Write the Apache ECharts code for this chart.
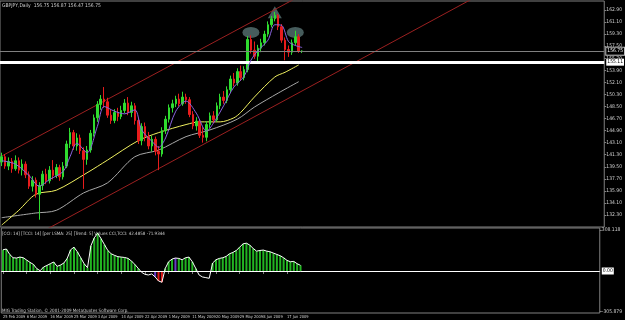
<!DOCTYPE html>
<html>
<head>
<meta charset="utf-8">
<script src="https://cdn.jsdelivr.net/npm/echarts@6/dist/echarts.min.js"></script>
<style>
html, body { margin: 0; padding: 0; background: #000; }
#chart { width: 625px; height: 320px; }
</style>
</head>
<body>
<div id="chart"></div>
<script>
// GBPJPY daily. candles: [open, close, low, high]
const CANDLES = [
  [140.2, 141.0, 139.6, 141.6], [141.0, 139.6, 139.2, 141.4], [139.6, 140.3, 139.0, 140.9],
  [140.3, 139.2, 138.6, 140.8], [139.2, 140.4, 138.9, 141.2], [140.4, 139.0, 138.5, 140.9],
  [139.0, 139.9, 138.2, 140.6], [139.9, 138.3, 137.8, 140.3], [138.3, 136.6, 136.2, 138.8],
  [136.6, 137.5, 135.8, 138.1], [137.5, 135.4, 134.9, 137.9], [135.4, 136.7, 131.6, 137.2],
  [136.7, 138.4, 136.0, 138.9], [138.4, 137.4, 136.9, 139.2], [137.4, 139.0, 137.0, 139.6],
  [139.0, 138.2, 137.6, 140.5], [138.2, 139.4, 137.8, 139.9], [139.4, 138.0, 137.4, 139.8],
  [138.0, 139.6, 137.6, 140.2], [139.6, 142.9, 139.3, 143.4], [142.9, 144.6, 142.3, 145.3],
  [144.6, 142.6, 142.0, 145.0], [142.6, 143.8, 141.9, 144.5], [143.8, 141.9, 141.4, 144.3],
  [141.9, 140.6, 136.2, 142.4], [140.6, 142.0, 139.8, 142.6], [142.0, 144.5, 141.6, 145.0],
  [144.5, 146.8, 144.0, 147.3], [146.8, 148.8, 146.2, 149.3], [148.8, 149.6, 148.0, 150.2],
  [149.6, 149.2, 148.3, 151.4], [149.2, 147.2, 146.8, 149.8], [147.2, 146.4, 145.9, 148.0],
  [146.4, 147.6, 146.0, 148.1], [147.6, 147.0, 146.3, 148.3], [147.0, 147.9, 146.6, 148.6],
  [147.9, 149.0, 147.5, 149.6], [149.0, 147.6, 147.2, 149.9], [147.6, 148.6, 146.9, 149.2],
  [148.6, 146.4, 145.8, 149.0], [146.4, 143.4, 142.9, 146.9], [143.4, 145.5, 142.7, 146.0],
  [145.5, 144.0, 143.3, 146.1], [144.0, 142.6, 142.1, 144.7], [142.6, 143.6, 141.8, 144.1],
  [143.6, 141.8, 141.2, 144.0], [141.8, 141.4, 139.0, 142.6], [141.4, 144.9, 141.0, 145.4],
  [144.9, 146.6, 144.4, 147.1], [146.6, 148.3, 146.1, 148.8], [148.3, 148.9, 147.6, 149.5],
  [148.9, 149.6, 148.4, 150.1], [149.6, 148.9, 148.5, 150.4], [148.9, 149.9, 148.6, 150.7],
  [149.9, 149.5, 148.9, 150.4], [149.5, 147.3, 146.9, 149.9], [147.3, 145.6, 145.1, 147.8],
  [145.6, 146.3, 144.9, 146.9], [146.3, 144.2, 143.8, 146.6], [144.2, 143.9, 143.1, 145.4],
  [143.9, 145.8, 143.3, 146.3], [145.8, 147.1, 145.3, 147.6], [147.1, 146.5, 146.0, 147.8],
  [146.5, 148.6, 146.2, 149.1], [148.6, 149.9, 148.1, 150.4], [149.9, 149.4, 148.9, 150.8],
  [149.4, 151.0, 149.0, 151.5], [151.0, 152.6, 150.5, 153.1], [152.6, 152.0, 151.5, 153.5],
  [152.0, 153.7, 151.6, 154.2], [153.7, 152.8, 152.3, 154.6], [152.8, 154.0, 152.4, 154.5],
  [154.0, 158.5, 153.6, 159.0], [158.5, 156.9, 156.4, 159.1], [156.9, 156.0, 155.6, 158.2],
  [156.0, 157.2, 155.0, 157.7], [157.2, 158.0, 156.6, 158.6], [158.0, 159.3, 157.6, 159.8],
  [159.3, 160.7, 158.9, 161.2], [160.7, 161.6, 160.3, 162.0], [161.6, 162.1, 161.2, 162.6],
  [162.1, 160.4, 159.9, 162.3], [160.4, 158.4, 158.0, 160.8], [158.4, 157.0, 155.4, 158.8],
  [157.0, 156.6, 155.9, 157.6], [156.6, 158.0, 156.2, 158.5], [158.0, 158.9, 157.6, 159.8],
  [158.9, 156.75, 156.5, 159.3], [156.75, 156.75, 156.47, 156.87]
];

// moving averages, [bar, price] read at a few bars
const FAST_MA = [[0,140.4],[4,139.9],[8,138.2],[11,136.6],[14,137.6],[18,138.8],[20,141.0],[22,143.0],
  [25,141.6],[28,145.5],[30,148.5],[33,147.8],[36,147.4],[39,148.0],[41,145.0],[44,143.3],[46,142.4],
  [48,143.8],[51,147.8],[54,149.3],[57,147.5],[60,144.8],[62,146.0],[65,148.6],[68,151.4],[71,153.0],
  [73,155.4],[75,156.8],[78,158.4],[80,160.7],[82,160.6],[84,158.2],[86,157.6],[88,157.3]];
const YELLOW_MA = [[0,130.8],[5,133.0],[10,135.4],[16,136.0],[25,138.6],[31,140.5],[40,143.4],[46,144.6],
  [54,145.8],[58,146.2],[64,146.2],[68,146.8],[70,147.6],[74,149.9],[80,152.9],[83,153.6],[87,154.7]];
const GREY_MA = [[0,131.9],[10,132.6],[16,133.0],[24,135.6],[31,137.1],[39,141.0],[46,142.0],[54,144.0],
  [61,145.0],[69,146.6],[74,148.4],[81,150.5],[87,152.2]];

// channel lines and drawn objects
const CHANNEL_UP = [[0,141.1],[90,165.7]];
const CHANNEL_DN = [[10,129.3],[176,175.1]];
const SHOULDERS = [[73,159.55],[86,159.55]];
const HEAD = [[80,162.55]];
const LAST_PRICE = 156.75;
const NECKLINE = 155.11;

// CCI sub window
const CCI = [160,166,125,100,98,105,100,83,65,50,18,2,30,42,55,68,35,45,60,95,
  160,180,145,100,55,25,190,250,285,245,200,155,130,118,108,105,102,95,75,50,
  20,-10,-25,-30,-22,-45,-75,-85,20,70,90,98,95,85,100,105,70,20,-30,-45,
  -50,-55,60,85,95,100,110,130,140,155,180,205,210,195,170,150,155,158,150,145,
  135,125,115,100,80,70,72,55,42.49];
const CCI_TREND = 'gggggggggggggggggggggggggggggggggggggggggnnnnprrgggpggggggnnnnggggggggggggggggggggggggggg'.split('');
const CCI_TICKS = [308.118, -305.879];

const PRICE_TICKS = [162.9,161.1,159.3,157.5,155.7,153.9,152.1,150.3,148.5,146.7,144.9,143.1,
  141.3,139.5,137.7,135.9,134.1,132.3,130.5];
const DATE_LABELS = ['25 Feb 2009','6 Mar 2009','16 Mar 2009','25 Mar 2009','3 Apr 2009','14 Apr 2009',
  '22 Apr 2009','1 May 2009','11 May 2009','20 May 2009','29 May 2009','8 Jun 2009','17 Jun 2009'];
const LABEL_STEP = 7;
const SLOTS = 177;

const slots = [];
for (let i = 0; i < SLOTS; i++) slots.push('b' + i);

const FONT = '"Liberation Sans Narrow", "DejaVu Sans Condensed", "Liberation Sans"';
const TXT = '#d0d0d0';
const trendColor = { g: '#22b422', p: '#6a3cc8', r: '#e01818' };

const showDate = (i) => i % LABEL_STEP === 0 && i / LABEL_STEP < DATE_LABELS.length;

const chart = echarts.init(document.getElementById('chart'), null, { renderer: 'canvas' });
chart.setOption({
  backgroundColor: '#000',
  animation: false,
  graphic: [
    { type: 'text', left: 2, top: 3, style: { text: 'GBPJPY,Daily  156.75 156.87 156.47 156.75', fill: TXT, font: '5px ' + FONT } },
    { type: 'text', left: 2, top: 231, style: { text: '[CCI: 14] [TCCI: 14] [per LSMA: 25] [Trend: 5] Values CCI,TCCI: 42.4858 -71.9344', fill: TXT, font: '4.5px ' + FONT } },
    { type: 'text', left: 2, top: 308, style: { text: 'MIG Trading Station, © 2001-2009 MetaQuotes Software Corp.', fill: TXT, font: '4.5px ' + FONT } }
  ],
  grid: [
    { left: 0, right: 15, top: 1, height: 226, show: true, borderColor: '#808080', borderWidth: 1 },
    { left: 0, right: 15, top: 228, height: 85, show: true, borderColor: '#808080', borderWidth: 1 }
  ],
  xAxis: [
    { type: 'category', data: slots, gridIndex: 0, boundaryGap: true,
      axisLine: { show: false }, axisTick: { show: false }, axisLabel: { show: false }, splitLine: { show: false } },
    { type: 'category', data: slots, gridIndex: 1, boundaryGap: true,
      axisLine: { show: true, lineStyle: { color: '#808080' } },
      axisTick: { show: true, alignWithLabel: true, length: 3, interval: showDate, lineStyle: { color: '#808080' } },
      axisLabel: { show: true, interval: showDate, hideOverlap: false, showMinLabel: true, showMaxLabel: true,
        align: 'left', margin: 2, fontSize: 4, fontFamily: FONT, color: TXT,
        formatter: (v, i) => DATE_LABELS[i / LABEL_STEP] || '' },
      splitLine: { show: false } }
  ],
  yAxis: [
    { type: 'value', gridIndex: 0, position: 'right', min: 130.51, max: 164.24, scale: true,
      axisLine: { show: false }, splitLine: { show: false },
      axisTick: { show: true, length: 2, customValues: PRICE_TICKS, lineStyle: { color: '#808080' } },
      axisLabel: { show: true, customValues: PRICE_TICKS, margin: 2, fontSize: 5, fontFamily: FONT, color: TXT,
        formatter: (v) => v.toFixed(2) } },
    { type: 'value', gridIndex: 1, position: 'right', min: -317, max: 324.6,
      axisLine: { show: false }, splitLine: { show: false },
      axisTick: { show: true, length: 2, customValues: CCI_TICKS, lineStyle: { color: '#808080' } },
      axisLabel: { show: true, customValues: CCI_TICKS, margin: 2, fontSize: 5, fontFamily: FONT, color: TXT,
        formatter: (v) => v.toFixed(3) } }
  ],
  series: [
    { type: 'scatter', name: 'shoulders', xAxisIndex: 0, yAxisIndex: 0, data: SHOULDERS, z: 1,
      symbol: 'circle', symbolSize: [17, 11], itemStyle: { color: '#587373' }, silent: true },
    { type: 'scatter', name: 'head', xAxisIndex: 0, yAxisIndex: 0, data: HEAD, z: 1,
      symbol: 'triangle', symbolSize: [14, 12], itemStyle: { color: '#587373' }, silent: true },
    { type: 'line', name: 'channel up', data: CHANNEL_UP, symbol: 'none', clip: true, z: 2,
      lineStyle: { color: '#9b2020', width: 1 }, silent: true },
    { type: 'line', name: 'channel down', data: CHANNEL_DN, symbol: 'none', clip: true, z: 2,
      lineStyle: { color: '#9b2020', width: 1 }, silent: true },
    { type: 'line', name: 'MA slow', data: GREY_MA, symbol: 'none', smooth: 0.3, z: 3,
      lineStyle: { color: '#a8a8a8', width: 1 } },
    { type: 'line', name: 'MA mid', data: YELLOW_MA, symbol: 'none', smooth: 0.3, z: 3,
      lineStyle: { color: '#f0f060', width: 1 } },
    { type: 'candlestick', name: 'GBPJPY', data: CANDLES, barWidth: 2, z: 4,
      itemStyle: { color: '#2fdc2f', color0: '#e81c1c', borderColor: '#2fdc2f', borderColor0: '#e81c1c', borderWidth: 1 },
      markLine: {
        symbol: 'none', silent: true, animation: false,
        data: [
          { yAxis: LAST_PRICE, lineStyle: { color: '#808080', width: 1, type: 'solid' },
            label: { position: 'end', distance: 2, formatter: (p) => p.value.toFixed(2), fontSize: 5, fontFamily: FONT,
              color: '#fff', backgroundColor: '#000', borderColor: '#c0c0c0', borderWidth: 1, padding: [1, 1] } },
          { yAxis: NECKLINE, lineStyle: { color: '#ffffff', width: 3, type: 'solid' },
            label: { position: 'end', distance: 2, formatter: (p) => p.value.toFixed(2), fontSize: 5, fontFamily: FONT,
              color: '#000', backgroundColor: '#ffffff', padding: [1, 1] } }
        ]
      } },
    { type: 'line', name: 'MA fast', data: FAST_MA, symbol: 'none', smooth: 0.3, z: 5,
      lineStyle: { color: '#8a64e0', width: 1 } },
    { type: 'bar', name: 'CCI hist', xAxisIndex: 1, yAxisIndex: 1, barWidth: 2,
      data: CCI.map((v, i) => CCI_TREND[i] === 'n' ? '-' : { value: v, itemStyle: { color: trendColor[CCI_TREND[i]] } }),
      markLine: {
        symbol: 'none', silent: true, animation: false,
        data: [{ yAxis: 0, lineStyle: { color: '#ffffff', width: 1, type: 'solid' },
          label: { position: 'end', distance: 2, formatter: '0.00', fontSize: 5, fontFamily: FONT,
            color: '#000', backgroundColor: '#ffffff', padding: [1, 1] } }]
      } },
    { type: 'line', name: 'CCI', xAxisIndex: 1, yAxisIndex: 1, data: CCI, symbol: 'none', z: 5,
      lineStyle: { color: '#ffffff', width: 1 } }
  ]
});
</script>
</body>
</html>
